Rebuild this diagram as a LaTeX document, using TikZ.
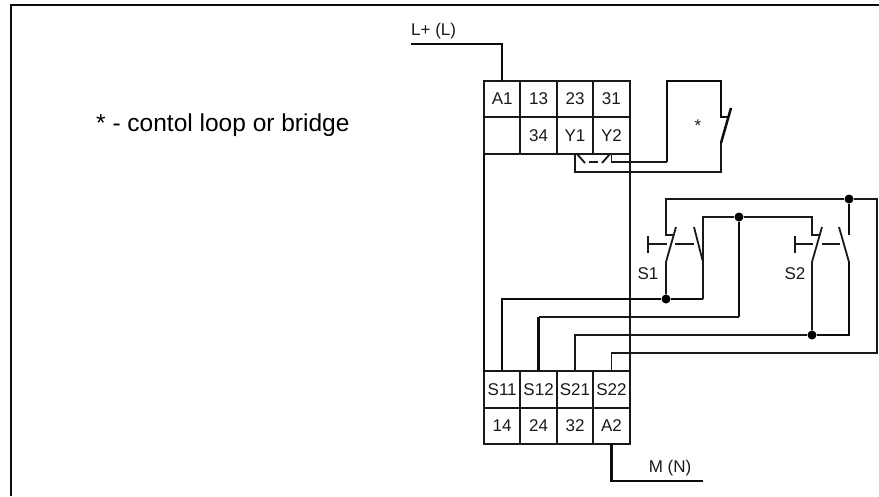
\documentclass[tikz,border=0pt]{standalone}
\usepackage{fontspec}
\setmainfont{Liberation Sans}
\usetikzlibrary{calc}
\tikzstyle{wire} = [draw, line width=1.8pt, black!90]
\tikzstyle{heavy} = [draw, line width=2.5pt, black!95]
\tikzstyle{term} = [rectangle, draw, line width=2pt, black!90, minimum width=36.4pt, minimum height=36.4pt, inner sep=0pt, outer sep=0pt, node distance=36.4pt, text=black!90, font=\fontsize{17}{17}\selectfont]
\tikzstyle{dot} = [circle, fill=black, inner sep=0pt, minimum size=9pt]
\tikzstyle{lab} = [inner sep=0pt, text=black!90, font=\fontsize{17}{17}\selectfont]

\begin{document}
\begin{tikzpicture}[x=1pt, y=-1pt]
	\useasboundingbox (0,0) rectangle (879,496);
	
	\coordinate (framea) at (11,496);
	\coordinate (frameb) at (11,5);
	\coordinate (framec) at (879,5);
	\path [heavy] (framea) -- (frameb) -- (framec);
	
	\node [lab, anchor=base west, font=\fontsize{24.5}{24.5}\selectfont, text=black] (note) at (96,131.7) {* - contol loop or bridge};
	
	\node [term] (a1) at (502.2,99) {A1};
	\node [term, right of = a1] (t13) {13};
	\node [term, right of = t13] (t23) {23};
	\node [term, right of = t23] (t31) {31};
	\node [term, below of = a1] (blank) {};
	\node [term, right of = blank] (t34) {34};
	\node [term, right of = t34] (y1) {Y1};
	\node [term, right of = y1] (y2) {Y2};
	
	\node [term] (s11) at (502.2,389.5) {S11};
	\node [term, right of = s11] (s12) {S12};
	\node [term, right of = s12] (s21) {S21};
	\node [term, right of = s21] (s22) {S22};
	\node [term, below of = s11] (t14) {14};
	\node [term, right of = t14] (t24) {24};
	\node [term, right of = t24] (t32) {32};
	\node [term, right of = t32] (a2) {A2};
	
	\path [heavy] (blank.south west) -- (s11.north west);
	\path [wire] (y2.south east) -- (s22.north east);
	
	\coordinate (lplus) at (411,44);
	\node [lab, anchor=base west] (llabel) at (411,35) {L+ (L)};
	\path [heavy] (lplus) -| (a1.north);
	
	\coordinate (mend) at (703,481);
	\node [lab, anchor=base] (mlabel) at (670,472) {M (N)};
	\path [heavy] (a2.south) |- (mend);
	
	\coordinate (ylefta) at (577,154);
	\coordinate (yleftb) at (585,163);
	\coordinate (ydasha) at (589,162);
	\coordinate (ydashb) at (598,162);
	\coordinate (yrighta) at (602,163);
	\coordinate (yrightb) at (610,154);
	\coordinate (bridgea) at (667,81);
	\coordinate (bridgeb) at (721,117);
	\coordinate (bridgec) at (728,117);
	\coordinate (bladea) at (731,108);
	\coordinate (bladeb) at (721,143);
	\coordinate (bridged) at (721,172);
	\path [wire] (ylefta) -- (yleftb);
	\path [wire] (ydasha) -- (ydashb);
	\path [wire] (yrighta) -- (yrightb);
	\path [wire] (y1.south) |- (bridged) -- (bladeb);
	\path [heavy] (bladeb) -- (bladea);
	\path [wire] (y2.south) |- (bridgea |- 0,162);
	\path [heavy] (bridgea |- 0,162) -- (bridgea) -| (bridgeb) -- (bridgec);
	\node [lab] (star) at (698,126) {*};
	
	\node [dot] (dotone) at (666,299) {};
	\node [dot] (dottop) at (849,199) {};
	\node [dot] (dotmid) at (739,217) {};
	\node [dot] (dottwo) at (812,335) {};
	
	\coordinate (sonea) at (666,235);
	\coordinate (soneb) at (673,235);
	\coordinate (sonec) at (676,227);
	\coordinate (soned) at (666,262);
	\coordinate (sonee) at (694,227);
	\coordinate (sonef) at (703,262);
	\coordinate (soneg) at (703,235);
	\coordinate (sonebar) at (648,244);
	\coordinate (sonestem) at (666.5,244);
	\coordinate (sonedasha) at (675,244);
	\coordinate (sonedashb) at (694,244);
	\node [lab, anchor=base] (sone) at (648,279) {S1};
	
	\coordinate (stwoa) at (812,235);
	\coordinate (stwob) at (819,235);
	\coordinate (stwoc) at (822,227);
	\coordinate (stwod) at (812,262);
	\coordinate (stwoe) at (839,227);
	\coordinate (stwof) at (849,262);
	\coordinate (stwog) at (849,235);
	\coordinate (stwobar) at (795,244);
	\coordinate (stwostem) at (813,244);
	\coordinate (stwodasha) at (822,244);
	\coordinate (stwodashb) at (840,244);
	\node [lab, anchor=base] (stwo) at (795,279) {S2};
	
	\path [wire] (sonebar |- 0,236) -- (sonebar |- 0,253);
	\path [wire] (sonebar) -- (sonestem);
	\path [wire] (sonedasha) -- (sonedashb);
	\path [wire] (stwobar |- 0,236) -- (stwobar |- 0,253);
	\path [wire] (stwobar) -- (stwostem);
	\path [wire] (stwodasha) -- (stwodashb);
	
	\coordinate (corner) at (877,353);
	\path [wire] (dottop) -- (dottop -| corner) -- (corner) -- (s22.north |- corner) -- (s22.north);
	\path [wire] (dottop) -| (sonea) -- (soneb);
	\path [wire] (sonec) -- (soned) -- (dotone);
	\path [heavy] (dotone) -- (dotone -| sonef);
	\path [wire] (dotone -| sonef) -- (sonef) -- (sonee);
	\path [wire] (sonef -| soneg) -- (soneg);
	\path [heavy] (s11.north) |- (dotone);
	
	\path [wire] (soneg) |- (dotmid) -| (stwoa) -- (stwob);
	\path [wire] (stwoc) -- (stwod) -- (dottwo);
	\path [heavy] (dottop) -- (stwog);
	\path [wire] (stwoe) -- (stwof);
	\path [heavy] (stwof) |- (dottwo);
	\path [wire] (dottwo) -| (s21.north);
	\path [heavy] (dotmid) -- (dotmid |- 0,317);
	\path [wire] (dotmid |- 0,317) -- (s12.north |- 0,317);
	\path [heavy] (s12.north |- 0,317) -- (s12.north);
\end{tikzpicture}
\end{document}
